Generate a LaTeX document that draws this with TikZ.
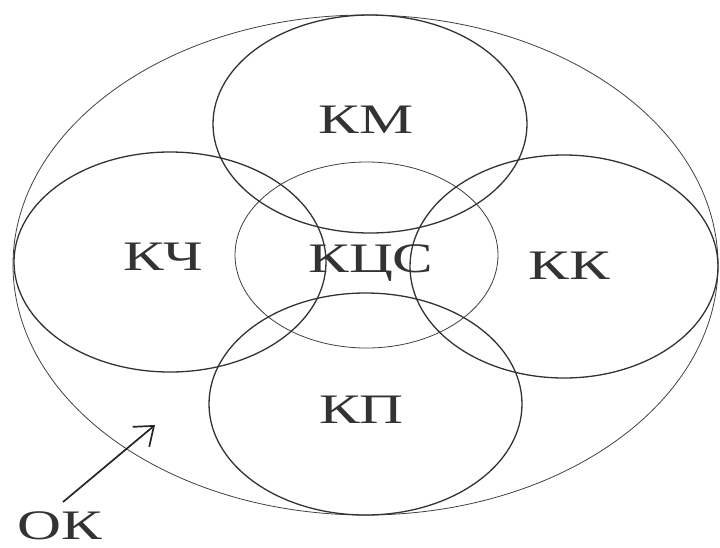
\documentclass[tikz,border=0pt]{standalone}
\usepackage{fontspec}
\setmainfont{Liberation Serif}
\newfontfamily\widefont[FakeStretch=1.45]{Liberation Serif}
\usetikzlibrary{arrows.meta}
\begin{document}
\begin{tikzpicture}[x=1pt,y=-1pt,
  thinring/.style={draw=black!75,line width=0.8pt},
  ring/.style={draw=black!80,line width=1.3pt},
  lbl/.style={anchor=base,inner sep=0pt,font=\widefont\fontsize{42}{42}\selectfont,text=black!80},
  pointer/.style={draw=black!85,line width=1.7pt,-{Straight Barb[length=17pt,width=26pt,line width=1.7pt]}}]
  \useasboundingbox (0,0) rectangle (720,547);
  % enclosing set
  \draw[thinring] (365.5,265) ellipse [x radius=352.5, y radius=250];
  % central set
  \draw[thinring] (366.5,255) ellipse [x radius=131.5, y radius=93];
  % four surrounding sets
  \draw[ring] (370,124) ellipse [x radius=157, y radius=109];
  \draw[ring] (170,262) ellipse [x radius=156, y radius=110];
  \draw[ring] (564,266.5) ellipse [x radius=154, y radius=111.5];
  \draw[ring] (365.5,404) ellipse [x radius=156.5, y radius=111];
  % labels
  \node[lbl] (km)  at (366,133) {КМ};
  \node[lbl] (kch) at (163.5,270) {КЧ};
  \node[lbl] (kcs) at (371,272) {КЦС};
  \node[lbl] (kk)  at (569,279) {КК};
  \node[lbl] (kp)  at (361.5,423) {КП};
  \node[lbl,text depth=0pt] (ok) at (60,539) {ОК};
  % pointer to the enclosing set
  \coordinate (tail) at (63,502);
  \coordinate (tip) at (155,425);
  \draw[pointer] (tail) -- (tip);
\end{tikzpicture}
\end{document}
